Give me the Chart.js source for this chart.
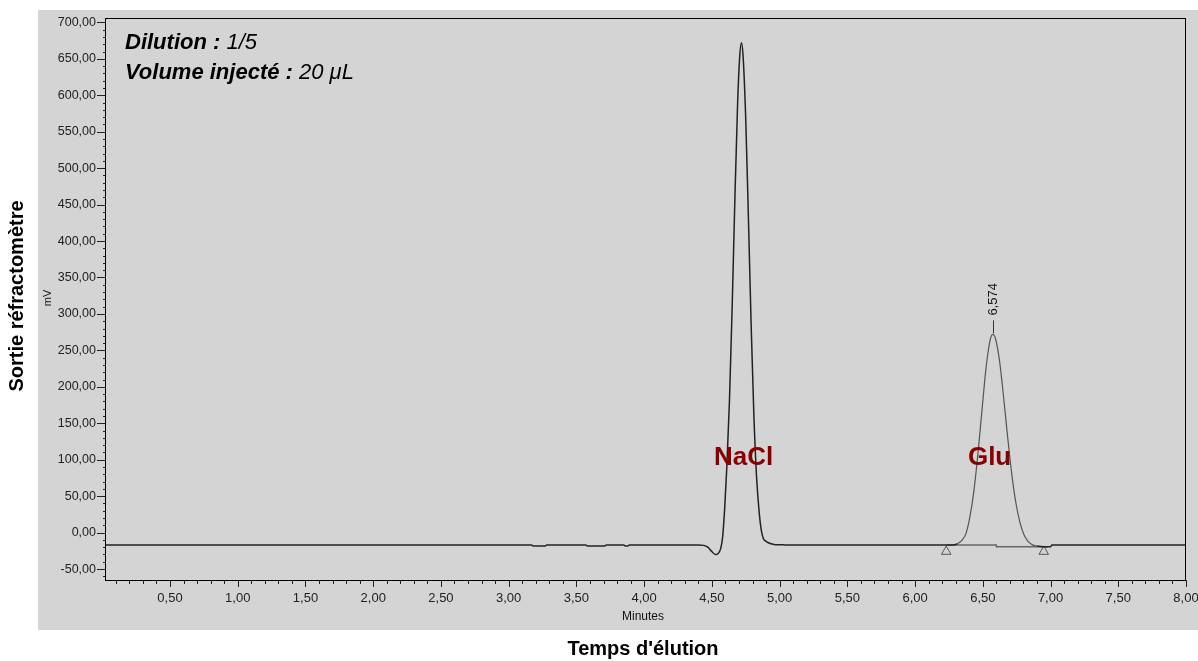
<!DOCTYPE html>
<html>
<head>
<meta charset="utf-8">
<script src="https://cdn.jsdelivr.net/npm/chart.js@4.4.1/dist/chart.umd.min.js"></script>
<style>
  html, body { margin: 0; padding: 0; background: #fff; }
  #wrap { position: relative; width: 1198px; height: 661px; }
</style>
</head>
<body>
<div id="wrap"><canvas id="chromato"></canvas></div>
<script>
const traceTime = [
  0.02, 3.17, 3.18, 3.27, 3.28, 3.57, 3.58, 3.71, 3.72, 3.85, 3.86, 3.88, 3.89,
  4.40, 4.44, 4.47, 4.50, 4.525, 4.545, 4.565, 4.58, 4.595, 4.61, 4.63, 4.65,
  4.67, 4.69, 4.705, 4.718, 4.73, 4.75, 4.77, 4.79, 4.81, 4.83, 4.85, 4.865,
  4.88, 4.90, 4.93, 4.97, 5.03, 5.04,
  6.28, 6.314, 6.344, 6.374, 6.404, 6.434, 6.464, 6.494, 6.524, 6.554, 6.574,
  6.594, 6.624, 6.654, 6.684, 6.714, 6.744, 6.774, 6.804, 6.834, 6.864, 6.90,
  6.95, 7.00, 7.01, 8.00
];
const traceSignal = [
  -17, -17, -18.5, -18.5, -17, -17, -18.5, -18.5, -17, -17, -18.5, -18.5, -17,
  -17, -17.5, -20, -26, -30, -29, -22, -5, 35, 89, 182, 311,
  459, 589, 652, 672, 655, 567, 430, 284, 161, 76, 26, 3,
  -8, -12, -15, -16.5, -16.5, -17,
  -17, -15, -11, -2, 21, 57, 108, 168, 226, 264, 272,
  266, 235, 185, 130, 80, 41, 14, -3, -12, -16.5, -18.5,
  -19.5, -19.5, -17, -17
];

// ligne de base d'intégration du pic Glu et ses marqueurs
const baseTime = [6.23, 6.60, 6.60, 6.98];
const baseSignal = [-17, -17, -19.5, -19.5];
const markerTime = [6.23, 6.95];
const markerSignal = [-26, -26];

// étiquettes
const peakNames = ['NaCl', 'Glu'];
const peakNameTime = [4.735, 6.55];
const peakNameSignal = [102, 102];
const retentionLabel = '6,574';
const retentionTime = 6.574;
const retentionSignal = 272;

const FONT = "'Liberation Sans', Arial, Helvetica, sans-serif";
const toPts = (xs, ys) => xs.map((x, i) => ({ x: x, y: ys[i] }));
const frNum = v => Number(v).toFixed(2).replace('.', ',');

const decor = {
  id: 'decor',
  beforeDraw(chart) {
    const c = chart.ctx;
    c.save();
    c.fillStyle = '#d4d4d4';
    c.fillRect(38, 10, 1160, 620);
    c.restore();
  },
  afterDraw(chart) {
    const c = chart.ctx;
    const a = chart.chartArea;
    const sx = chart.scales.x;
    const sy = chart.scales.y;
    c.save();

    // cadre
    c.strokeStyle = '#000';
    c.lineWidth = 1;
    c.strokeRect(a.left + 0.5, a.top + 0.5, a.right - a.left - 1, a.bottom - a.top);

    // graduations
    c.strokeStyle = '#222';
    c.beginPath();
    for (let i = 1; i <= 80; i++) {
      const px = Math.round(sx.getPixelForValue(i / 10)) + 0.5;
      const len = i % 5 === 0 ? 7 : 4;
      c.moveTo(px, a.bottom);
      c.lineTo(px, a.bottom + len);
    }
    for (let v = -60; v <= 700; v += 10) {
      const py = Math.round(sy.getPixelForValue(v)) + 0.5;
      const len = v % 50 === 0 ? 8 : 2;
      c.moveTo(a.left - len, py);
      c.lineTo(a.left, py);
    }
    c.stroke();

    // annotation en haut à gauche
    c.fillStyle = '#000';
    c.textBaseline = 'alphabetic';
    c.textAlign = 'left';
    const lines = [['Dilution : ', '1/5'], ['Volume injecté : ', '20 \u03bcL']];
    lines.forEach((l, i) => {
      const yy = 49 + i * 30;
      c.font = 'italic bold 22px ' + FONT;
      c.fillText(l[0], 125, yy);
      const w = c.measureText(l[0]).width;
      c.font = 'italic 22px ' + FONT;
      c.fillText(l[1], 125 + w, yy);
    });

    // noms des pics
    c.fillStyle = '#880000';
    c.font = 'bold 26px ' + FONT;
    c.textAlign = 'center';
    c.textBaseline = 'middle';
    peakNames.forEach((n, i) => {
      c.fillText(n, sx.getPixelForValue(peakNameTime[i]), sy.getPixelForValue(peakNameSignal[i]));
    });

    // temps de rétention du pic Glu
    const rx = Math.round(sx.getPixelForValue(retentionTime)) + 0.5;
    const ry = sy.getPixelForValue(retentionSignal);
    c.strokeStyle = '#333';
    c.beginPath();
    c.moveTo(rx, ry - 1);
    c.lineTo(rx, ry - 14);
    c.stroke();
    c.save();
    c.translate(rx, ry - 35);
    c.rotate(-Math.PI / 2);
    c.fillStyle = '#111';
    c.font = '13px ' + FONT;
    c.fillText(retentionLabel, 0, 0);
    c.restore();

    // unité et titres
    c.fillStyle = '#111';
    c.save();
    c.translate(48, 298);
    c.rotate(-Math.PI / 2);
    c.font = '11px ' + FONT;
    c.fillText('mV', 0, 0);
    c.restore();

    c.font = '12px ' + FONT;
    c.fillText('Minutes', 643, 617);

    c.fillStyle = '#000';
    c.font = 'bold 20px ' + FONT;
    c.fillText("Temps d'élution", 643, 649);
    c.save();
    c.translate(17, 296);
    c.rotate(-Math.PI / 2);
    c.fillText('Sortie réfractomètre', 0, 0);
    c.restore();

    c.restore();
  }
};

new Chart(document.getElementById('chromato'), {
  type: 'line',
  data: {
    datasets: [
      {
        label: 'Signal',
        data: toPts(traceTime, traceSignal),
        borderColor: '#222',
        borderWidth: 1.5,
        pointRadius: 0,
        cubicInterpolationMode: 'monotone',
        segment: {
          borderColor: ctx => (ctx.p0.parsed.x >= 6.3 && ctx.p1.parsed.x <= 6.9) ? '#555' : '#222',
          borderWidth: ctx => (ctx.p0.parsed.x >= 6.3 && ctx.p1.parsed.x <= 6.9) ? 1.2 : 1.5
        }
      },
      {
        label: 'Ligne de base',
        data: toPts(baseTime, baseSignal),
        borderColor: '#666',
        borderWidth: 1.5,
        pointRadius: 0,
        tension: 0
      },
      {
        label: 'Bornes',
        data: toPts(markerTime, markerSignal),
        showLine: false,
        pointStyle: 'triangle',
        pointRadius: 5.5,
        pointBorderWidth: 1,
        pointBorderColor: '#555',
        pointBackgroundColor: 'rgba(0,0,0,0)'
      }
    ]
  },
  options: {
    responsive: true,
    maintainAspectRatio: false,
    animation: false,
    layout: { padding: { left: 0, right: 12, top: 18, bottom: 0 } },
    plugins: {
      legend: { display: false },
      tooltip: { enabled: false }
    },
    scales: {
      x: {
        type: 'linear',
        min: 0.02,
        max: 8,
        afterFit: s => { s.height = 81; s.paddingRight = 0; s.paddingLeft = 0; },
        grid: { display: false, drawTicks: false },
        border: { display: false },
        ticks: {
          stepSize: 0.5,
          includeBounds: false,
          autoSkip: false,
          maxRotation: 0,
          padding: 11,
          color: '#222',
          font: { family: FONT, size: 13 },
          callback: v => frNum(v)
        }
      },
      y: {
        min: -65,
        max: 706,
        afterFit: s => { s.width = 105; },
        grid: { display: false, drawTicks: false },
        border: { display: false },
        ticks: {
          stepSize: 50,
          includeBounds: false,
          autoSkip: false,
          padding: 9,
          color: '#222',
          font: { family: FONT, size: 12.5 },
          callback: v => frNum(v)
        }
      }
    }
  },
  plugins: [decor]
});
</script>
</body>
</html>
